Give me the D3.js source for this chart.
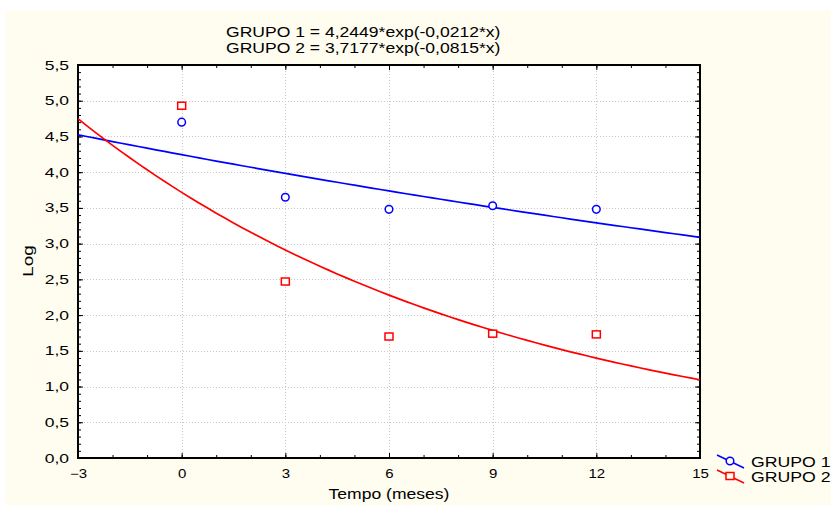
<!DOCTYPE html>
<html>
<head>
<meta charset="utf-8">
<script src="https://cdn.jsdelivr.net/npm/d3@7"></script>
<style>
  html, body { margin: 0; padding: 0; background: #ffffff; }
  svg { display: block; font-family: "Liberation Sans", Arial, sans-serif; }
</style>
</head>
<body>
<svg id="chart" width="831" height="505"></svg>
<script>
// ---- data ----
const months = [0, 3, 6, 9, 12];
const grupo1 = [4.70, 3.65, 3.48, 3.53, 3.48];
const grupo2 = [4.93, 2.47, 1.70, 1.74, 1.73];
const seriesNames = ["GRUPO 1", "GRUPO 2"];
const fitA = [4.2449, 3.7177];
const fitB = [-0.0212, -0.0815];
const titleLines = ["GRUPO 1 = 4,2449*exp(-0,0212*x)", "GRUPO 2 = 3,7177*exp(-0,0815*x)"];
const xTicks = [-3, 0, 3, 6, 9, 12, 15];
const yTicks = [0, 0.5, 1, 1.5, 2, 2.5, 3, 3.5, 4, 4.5, 5, 5.5];
const colors = ["#0000ff", "#ff0000"];

const svg = d3.select("#chart");
const W = 831, H = 505;
const L = 78, R = 700, T = 65, B = 458;
const BG = "#fffcf0";

svg.append("rect").attr("x", 6).attr("y", 10).attr("width", W - 6).attr("height", H - 10).attr("fill", BG);

const x = d3.scaleLinear().domain([-3, 15]).range([L, R]);
const y = d3.scaleLinear().domain([0, 5.5]).range([B, T]);

svg.append("rect").attr("x", L).attr("y", T).attr("width", R - L).attr("height", B - T).attr("fill", "#ffffff");

// grid
const grid = svg.append("g").attr("stroke", "#c8c8c8").attr("stroke-width", 1).attr("stroke-dasharray", "1,2");
xTicks.slice(1, -1).forEach(v => grid.append("line").attr("x1", Math.round(x(v)) + 0.5).attr("x2", Math.round(x(v)) + 0.5).attr("y1", T).attr("y2", B));
yTicks.slice(1, -1).forEach(v => grid.append("line").attr("y1", Math.round(y(v)) + 0.5).attr("y2", Math.round(y(v)) + 0.5).attr("x1", L).attr("x2", R));

// axes (ticks inward)
const minorX = d3.range(-3, 15.01, 1);
const minorY = d3.range(0, 55.01, 1).map(d => d / 10);
function axisG(axis, tr) {
  return svg.append("g").attr("transform", tr).call(axis)
    .call(g => g.select(".domain").remove());
}
// stretch text horizontally (reference glyphs are wide)
function stretch(sel, s) {
  sel.each(function() {
    const t = d3.select(this);
    const xv = +(t.attr("x") || 0);
    t.attr("x", xv / s).attr("transform", `scale(${s},1)`);
  });
}
axisG(d3.axisBottom(x).tickValues(minorX).tickSize(-3).tickFormat(""), `translate(0,${B})`);
axisG(d3.axisTop(x).tickValues(minorX).tickSize(-3).tickFormat(""), `translate(0,${T})`);
axisG(d3.axisLeft(y).tickValues(minorY).tickSize(-3).tickFormat(""), `translate(${L},0)`);
axisG(d3.axisRight(y).tickValues(minorY).tickSize(-3).tickFormat(""), `translate(${R},0)`);
const fmt = d => d3.format(".1f")(d).replace(".", ",");
const xb = axisG(d3.axisBottom(x).tickValues(xTicks).tickSize(-5).tickPadding(11).tickFormat(d3.format("d")), `translate(0,${B})`);
const yl = axisG(d3.axisLeft(y).tickValues(yTicks).tickSize(-5).tickPadding(9).tickFormat(fmt), `translate(${L},0)`);
axisG(d3.axisTop(x).tickValues(xTicks).tickSize(-5).tickFormat(""), `translate(0,${T})`);
axisG(d3.axisRight(y).tickValues(yTicks).tickSize(-5).tickFormat(""), `translate(${R},0)`);
svg.selectAll(".tick line").attr("stroke", "#000");
svg.selectAll(".tick text").attr("fill", "#000").attr("font-family", "Liberation Sans, Arial, sans-serif");
xb.selectAll("text").attr("font-size", 12);
yl.selectAll("text").attr("font-size", 12.5);
stretch(xb.selectAll("text"), 1.25);
stretch(yl.selectAll("text"), 1.4);

// border
svg.append("rect").attr("x", L).attr("y", T).attr("width", R - L).attr("height", B - T)
  .attr("fill", "none").attr("stroke", "#000").attr("stroke-width", 2);

// fitted curves
svg.append("clipPath").attr("id", "pc").append("rect").attr("x", L).attr("y", T).attr("width", R - L).attr("height", B - T);
const xs = d3.range(-3, 15.001, 0.25);
const line = d3.line().x(d => x(d[0])).y(d => y(d[1]));
[0, 1].forEach(i => {
  svg.append("path").attr("clip-path", "url(#pc)")
    .datum(xs.map(v => [v, fitA[i] * Math.exp(fitB[i] * v)]))
    .attr("d", line).attr("fill", "none").attr("stroke", colors[i]).attr("stroke-width", 1.7);
});

// points
months.forEach((m, j) => {
  svg.append("circle").attr("cx", x(m)).attr("cy", y(grupo1[j])).attr("r", 3.8)
    .attr("fill", "#fff").attr("stroke", colors[0]).attr("stroke-width", 1.5);
  svg.append("rect").attr("x", x(m) - 4).attr("y", y(grupo2[j]) - 3.5).attr("width", 8).attr("height", 7)
    .attr("fill", "#fff").attr("stroke", colors[1]).attr("stroke-width", 1.5);
});

// title
titleLines.forEach((d, i) => {
  svg.append("text").attr("transform", `translate(226,${37 + i * 16.3}) scale(1.17,1)`)
    .attr("font-size", 15).attr("fill", "#000").text(d);
});

// axis labels
svg.append("text").attr("transform", `translate(${(L + R) / 2},499) scale(1.17,1)`)
  .attr("text-anchor", "middle").attr("font-size", 15).text("Tempo (meses)");
svg.append("text").attr("transform", "translate(33,261) rotate(-90) scale(1.25,1)")
  .attr("text-anchor", "middle").attr("font-size", 15).text("Log");

// legend
seriesNames.forEach((name, i) => {
  const cy = 461 + i * 15;
  const g = svg.append("g");
  g.append("line").attr("x1", 717).attr("y1", cy - 6).attr("x2", 744).attr("y2", cy + 7)
    .attr("stroke", colors[i]).attr("stroke-width", 1.5);
  if (i === 0) {
    g.append("circle").attr("cx", 730).attr("cy", cy).attr("r", 3.8).attr("fill", BG).attr("stroke", colors[i]).attr("stroke-width", 1.5);
  } else {
    g.append("rect").attr("x", 726).attr("y", cy - 3.5).attr("width", 8).attr("height", 7).attr("fill", BG).attr("stroke", colors[i]).attr("stroke-width", 1.5);
  }
  g.append("text").attr("transform", `translate(751,${cy + 6}) scale(1.18,1)`).attr("font-size", 15).text(name);
});
</script>
</body>
</html>
